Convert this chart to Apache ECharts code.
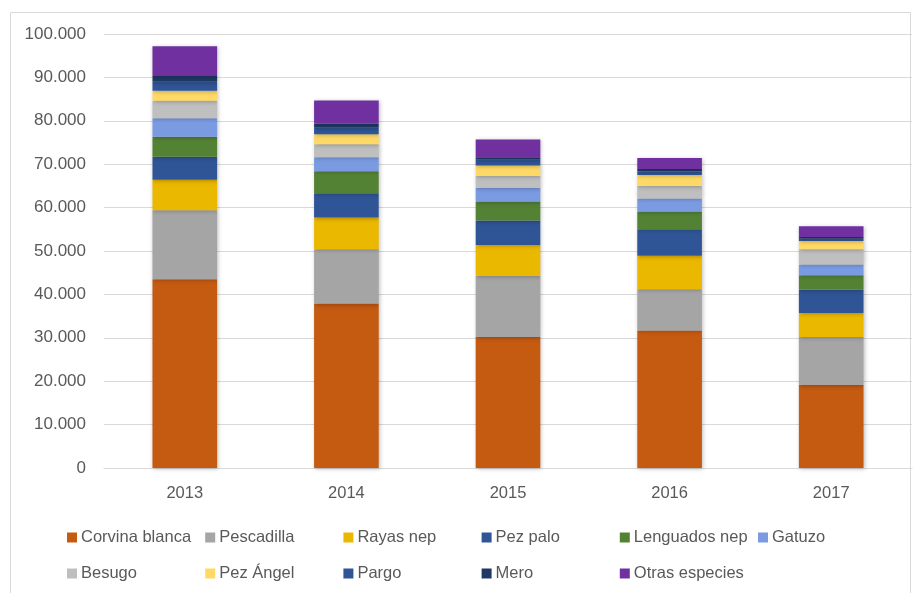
<!DOCTYPE html>
<html>
<head>
<meta charset="utf-8">
<script src="https://cdn.jsdelivr.net/npm/echarts@6/dist/echarts.min.js"></script>
<style>html,body{margin:0;padding:0;background:#fff}#c{width:922px;height:593px}</style>
</head>
<body>
<div id="c"></div>
<script>
const years = ['2013', '2014', '2015', '2016', '2017'];
const speciesNames = ['Corvina blanca', 'Pescadilla', 'Rayas nep', 'Pez palo', 'Lenguados nep', 'Gatuzo', 'Besugo', 'Pez Ángel', 'Pargo', 'Mero', 'Otras especies'];
const corvina    = [43500, 37900, 30200, 31700, 19200];
const pescadilla = [15900, 12500, 14100, 9500, 11000];
const rayas      = [7000, 7300, 7100, 7700, 5500];
const pezPalo    = [5300, 5600, 5600, 6100, 5400];
const lenguados  = [4600, 5100, 4400, 4100, 3300];
const gatuzo     = [4300, 3200, 3200, 3000, 2500];
const besugo     = [4000, 3000, 2700, 2900, 3500];
const pezAngel   = [2300, 2300, 2400, 2500, 1900];
const pargo      = [2100, 1500, 1300, 800, 500];
const mero       = [1300, 900, 600, 600, 400];
const otras      = [6900, 5400, 4100, 2500, 2500];
const yTicks = [0, 10000, 20000, 30000, 40000, 50000, 60000, 70000, 80000, 90000, 100000];

const allData = [corvina, pescadilla, rayas, pezPalo, lenguados, gatuzo, besugo, pezAngel, pargo, mero, otras];
const colors = ['#C55A11', '#A5A5A5', '#EBB800', '#2F5597', '#548235', '#7A9AE2', '#BFBFBF', '#FFD966', '#2F5597', '#1F3864', '#7030A0'];
const FONT = 'Liberation Sans';

const series = speciesNames.map((n, i) => ({
  name: n, type: 'bar', stack: 'total', data: allData[i], barWidth: '40%',
  itemStyle: { color: colors[i], shadowColor: 'rgba(0,0,0,0.25)', shadowBlur: 4, shadowOffsetX: 1, shadowOffsetY: 1 },
  emphasis: { disabled: true }
}));

// legend: fixed columns, two rows
const legends = speciesNames.map((n, i) => ({
  data: [n],
  left: 67 + (i % 6) * 138.2,
  top: i < 6 ? 529 : 565,
  itemWidth: 10, itemHeight: 10, icon: 'rect', selectedMode: false,
  padding: 0,
  textStyle: { fontFamily: FONT, fontSize: 16.5, color: '#595959', padding: [0, 0, 0, -1] }
}));

const chart = echarts.init(document.getElementById('c'), null, { renderer: 'canvas' });
chart.setOption({
  animation: false,
  color: colors,
  grid: { left: 104, right: 10, top: 34, bottom: 125, containLabel: false },
  graphic: [{ type: 'rect', shape: { x: 10.5, y: 12.5, width: 900, height: 600 }, style: { fill: null, stroke: '#D9D9D9', lineWidth: 1 }, silent: true, z: -1 }],
  legend: legends,
  xAxis: {
    type: 'category', data: years,
    axisLine: { lineStyle: { color: '#D9D9D9' } },
    axisTick: { show: false },
    axisLabel: { fontFamily: FONT, fontSize: 16.5, color: '#595959', margin: 17 }
  },
  yAxis: {
    type: 'value', min: 0, max: 100000, interval: 10000,
    axisLine: { show: false }, axisTick: { show: false },
    splitLine: { lineStyle: { color: '#D9D9D9' } },
    axisLabel: {
      fontFamily: FONT, fontSize: 17, color: '#595959', margin: 18,
      formatter: v => yTicks.includes(v) ? (v === 0 ? '0' : (v / 1000) + '.000') : ''
    }
  },
  series: series
});
</script>
</body>
</html>
